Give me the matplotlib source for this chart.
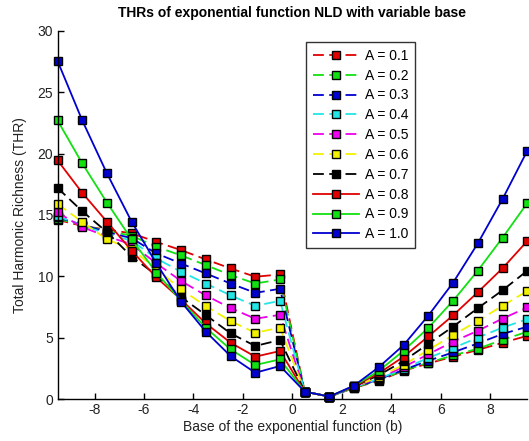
import matplotlib
matplotlib.use("Agg")
import matplotlib.pyplot as plt

plt.rcParams['font.family'] = ['Liberation Sans', 'DejaVu Sans']
plt.rcParams['axes.unicode_minus'] = False

# Base of the exponential function (b)
base_b = [-9.5, -8.5, -7.5, -6.5, -5.5, -4.5, -3.5, -2.5, -1.5, -0.5,
          0.5, 1.5, 2.5, 3.5, 4.5, 5.5, 6.5, 7.5, 8.5, 9.5]

# Total harmonic richness for each amplitude A
thr_a01 = [14.6, 14.1, 13.8, 13.5, 12.8, 12.13, 11.37, 10.64, 9.96, 10.15,
           0.6, 0.2, 0.9, 1.5, 2.3, 2.9, 3.45, 4.0, 4.58, 5.15]
thr_a02 = [14.7, 14.15, 13.7, 13.3, 12.4, 11.7, 10.91, 10.1, 9.41, 9.74,
           0.6, 0.2, 0.92, 1.55, 2.33, 2.96, 3.55, 4.1, 4.82, 5.48]
thr_a03 = [14.8, 14.2, 13.6, 13.1, 11.86, 11.04, 10.23, 9.41, 8.65, 8.98,
           0.6, 0.2, 0.94, 1.6, 2.38, 3.12, 3.8, 4.53, 5.3, 5.89]
thr_a04 = [14.9, 14.15, 13.45, 12.9, 11.45, 10.37, 9.41, 8.44, 7.59, 8.0,
           0.6, 0.2, 0.96, 1.65, 2.48, 3.35, 4.15, 5.0, 5.82, 6.5]
thr_a05 = [15.2, 14.0, 13.25, 12.6, 11.05, 9.61, 8.44, 7.41, 6.54, 6.86,
           0.6, 0.2, 0.98, 1.72, 2.6, 3.65, 4.67, 5.56, 6.55, 7.46]
thr_a06 = [15.9, 14.43, 13.0, 12.2, 10.6, 8.93, 7.57, 6.35, 5.4, 5.81,
           0.6, 0.2, 1.0, 1.82, 2.78, 4.0, 5.21, 6.36, 7.6, 8.8]
thr_a07 = [17.2, 15.3, 13.6, 11.6, 10.1, 8.3, 6.84, 5.35, 4.32, 4.81,
           0.6, 0.2, 1.02, 1.95, 3.1, 4.5, 5.9, 7.4, 8.86, 10.45]
thr_a08 = [19.45, 16.8, 14.44, 12.09, 9.9, 8.1, 6.16, 4.59, 3.45, 3.91,
           0.6, 0.2, 1.05, 2.1, 3.45, 5.1, 6.82, 8.7, 10.65, 12.87]
thr_a09 = [22.7, 19.2, 16.0, 13.0, 10.3, 8.0, 5.8, 4.05, 2.77, 3.23,
           0.6, 0.2, 1.08, 2.3, 3.94, 5.8, 8.0, 10.46, 13.14, 15.96]
thr_a10 = [27.55, 22.7, 18.38, 14.44, 11.05, 7.92, 5.48, 3.5, 2.14, 2.69,
           0.6, 0.2, 1.1, 2.6, 4.4, 6.8, 9.48, 12.68, 16.29, 20.22]

series_labels = ['A = 0.1', 'A = 0.2', 'A = 0.3', 'A = 0.4', 'A = 0.5',
                 'A = 0.6', 'A = 0.7', 'A = 0.8', 'A = 0.9', 'A = 1.0']
series_values = [thr_a01, thr_a02, thr_a03, thr_a04, thr_a05,
                 thr_a06, thr_a07, thr_a08, thr_a09, thr_a10]

red, green, blue = '#e00000', '#11e011', '#0000d0'
cyan, magenta, yellow, black = '#22e6e6', '#ee00ee', '#f2f200', '#000000'
colors = [red, green, blue, cyan, magenta, yellow, black, red, green, blue]
dashed = [True] * 7 + [False] * 3

fig = plt.figure(figsize=(5.29, 4.41), dpi=100)
ax = fig.add_axes([0.1087, 0.0952, 0.888, 0.835])

for vals, lab, col, dsh in zip(series_values, series_labels, colors, dashed):
    line, = ax.plot(base_b, vals, color=col, lw=1.3, marker='s',
                    markersize=5.5, markerfacecolor=col,
                    markeredgecolor='black', markeredgewidth=1.0,
                    label=lab, clip_on=False)
    if dsh:
        line.set_dashes((6, 3))

ax.set_xlim(-9.5, 9.5)
ax.set_ylim(0, 30)
ax.set_xticks([-8, -6, -4, -2, 0, 2, 4, 6, 8])
ax.set_yticks([0, 5, 10, 15, 20, 25, 30])
ax.spines['top'].set_visible(False)
ax.spines['right'].set_visible(False)
for s in ('left', 'bottom'):
    ax.spines[s].set_linewidth(1.0)
ax.tick_params(direction='in', length=4, width=1.0, labelsize=10,
               labelcolor='#222222', pad=3)

ax.set_title('THRs of exponential function NLD with variable base',
             fontsize=10, fontweight='bold', pad=10)
ax.set_xlabel('Base of the exponential function (b)', fontsize=10,
              color='#222222', labelpad=2)
ax.set_ylabel('Total Harmonic Richness (THR)', fontsize=10,
              color='#222222', labelpad=8)

leg = ax.legend(loc='upper left', bbox_to_anchor=(0.530, 0.970),
                borderaxespad=0, fancybox=False, shadow=False,
                fontsize=10, handlelength=3.3, handletextpad=0.4,
                labelspacing=0.42, borderpad=0.5, framealpha=1)
leg.get_frame().set_edgecolor('#333333')
leg.get_frame().set_linewidth(1.0)

fig.savefig('out.png', dpi=100)
